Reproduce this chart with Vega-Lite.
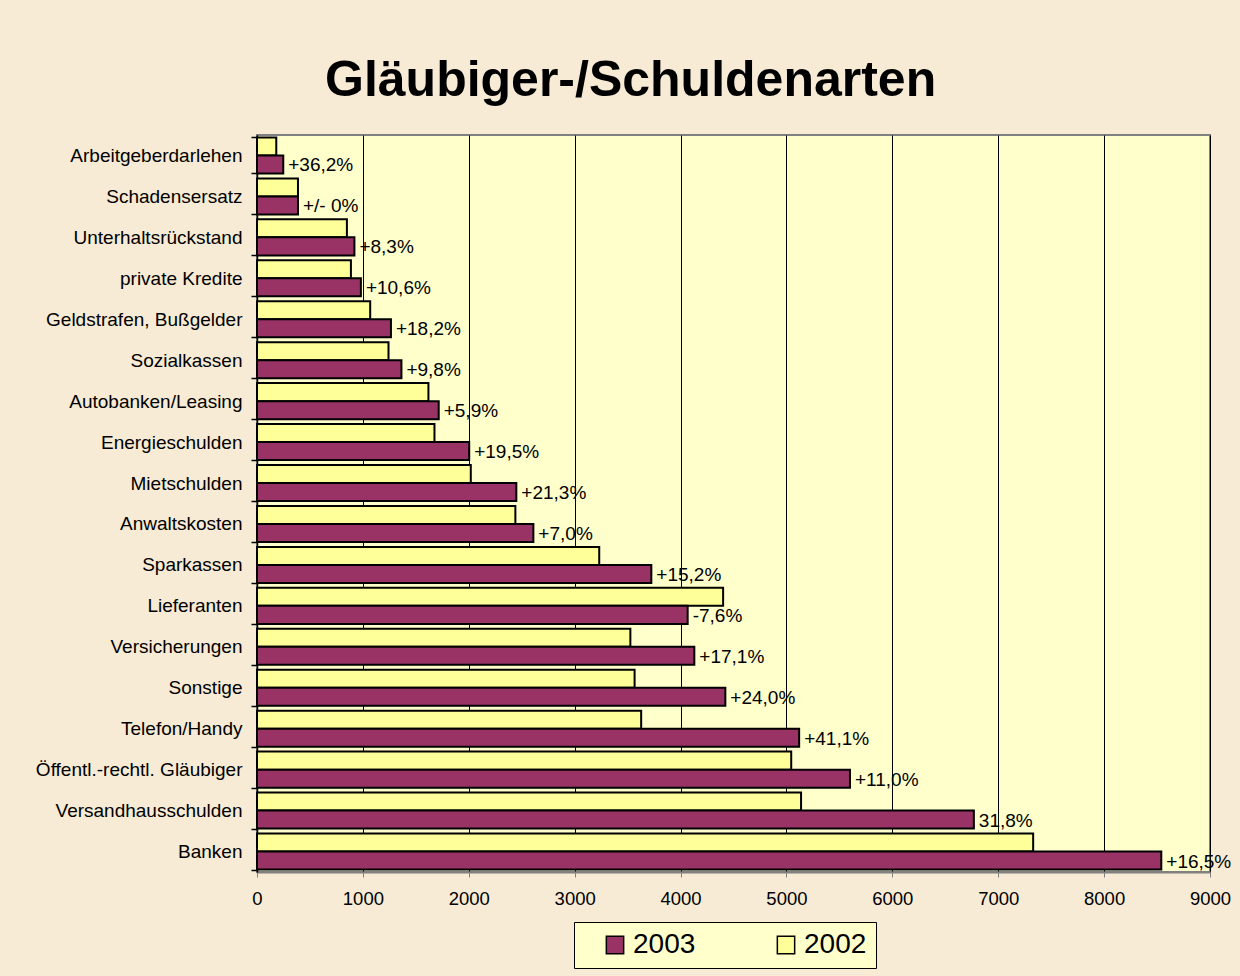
{
  "$schema": "https://vega.github.io/schema/vega-lite/v6.json",
  "width": 953,
  "height": 737,
  "autosize": "none",
  "padding": {"left": 257, "top": 135, "right": 30, "bottom": 104},
  "background": "#F7EBD5",
  "title": {
    "text": "Gläubiger-/Schuldenarten",
    "font": "Liberation Sans",
    "fontSize": 50,
    "fontWeight": "bold",
    "color": "black",
    "anchor": "start",
    "frame": "group",
    "dx": 68,
    "offset": 20
  },
  "config": {
    "font": "Liberation Sans",
    "view": {"fill": "#FFFFCC", "stroke": "#808080", "strokeWidth": 2}
  },
  "data": {
    "values": [
      {"cat": "Arbeitgeberdarlehen", "year": "2002", "value": 182, "label": ""},
      {"cat": "Arbeitgeberdarlehen", "year": "2003", "value": 248, "label": "+36,2%"},
      {"cat": "Schadensersatz", "year": "2002", "value": 387, "label": ""},
      {"cat": "Schadensersatz", "year": "2003", "value": 387, "label": "+/- 0%"},
      {"cat": "Unterhaltsrückstand", "year": "2002", "value": 849, "label": ""},
      {"cat": "Unterhaltsrückstand", "year": "2003", "value": 920, "label": "+8,3%"},
      {"cat": "private Kredite", "year": "2002", "value": 887, "label": ""},
      {"cat": "private Kredite", "year": "2003", "value": 981, "label": "+10,6%"},
      {"cat": "Geldstrafen, Bußgelder", "year": "2002", "value": 1069, "label": ""},
      {"cat": "Geldstrafen, Bußgelder", "year": "2003", "value": 1265, "label": "+18,2%"},
      {"cat": "Sozialkassen", "year": "2002", "value": 1242, "label": ""},
      {"cat": "Sozialkassen", "year": "2003", "value": 1364, "label": "+9,8%"},
      {"cat": "Autobanken/Leasing", "year": "2002", "value": 1619, "label": ""},
      {"cat": "Autobanken/Leasing", "year": "2003", "value": 1716, "label": "+5,9%"},
      {"cat": "Energieschulden", "year": "2002", "value": 1676, "label": ""},
      {"cat": "Energieschulden", "year": "2003", "value": 2004, "label": "+19,5%"},
      {"cat": "Mietschulden", "year": "2002", "value": 2019, "label": ""},
      {"cat": "Mietschulden", "year": "2003", "value": 2449, "label": "+21,3%"},
      {"cat": "Anwaltskosten", "year": "2002", "value": 2440, "label": ""},
      {"cat": "Anwaltskosten", "year": "2003", "value": 2610, "label": "+7,0%"},
      {"cat": "Sparkassen", "year": "2002", "value": 3232, "label": ""},
      {"cat": "Sparkassen", "year": "2003", "value": 3724, "label": "+15,2%"},
      {"cat": "Lieferanten", "year": "2002", "value": 4402, "label": ""},
      {"cat": "Lieferanten", "year": "2003", "value": 4067, "label": "-7,6%"},
      {"cat": "Versicherungen", "year": "2002", "value": 3526, "label": ""},
      {"cat": "Versicherungen", "year": "2003", "value": 4130, "label": "+17,1%"},
      {"cat": "Sonstige", "year": "2002", "value": 3566, "label": ""},
      {"cat": "Sonstige", "year": "2003", "value": 4423, "label": "+24,0%"},
      {"cat": "Telefon/Handy", "year": "2002", "value": 3628, "label": ""},
      {"cat": "Telefon/Handy", "year": "2003", "value": 5120, "label": "+41,1%"},
      {"cat": "Öffentl.-rechtl. Gläubiger", "year": "2002", "value": 5045, "label": ""},
      {"cat": "Öffentl.-rechtl. Gläubiger", "year": "2003", "value": 5600, "label": "+11,0%"},
      {"cat": "Versandhausschulden", "year": "2002", "value": 5138, "label": ""},
      {"cat": "Versandhausschulden", "year": "2003", "value": 6770, "label": "31,8%"},
      {"cat": "Banken", "year": "2002", "value": 7330, "label": ""},
      {"cat": "Banken", "year": "2003", "value": 8540, "label": "+16,5%"}
    ]
  },
  "encoding": {
    "y": {
      "field": "cat",
      "type": "nominal",
      "sort": ["Arbeitgeberdarlehen", "Schadensersatz", "Unterhaltsrückstand", "private Kredite", "Geldstrafen, Bußgelder", "Sozialkassen", "Autobanken/Leasing", "Energieschulden", "Mietschulden", "Anwaltskosten", "Sparkassen", "Lieferanten", "Versicherungen", "Sonstige", "Telefon/Handy", "Öffentl.-rechtl. Gläubiger", "Versandhausschulden", "Banken"],
      "scale": {"paddingInner": 0.12, "paddingOuter": 0.06},
      "axis": {
        "title": null,
        "domainColor": "black",
        "domainWidth": 1.5,
        "tickBand": "extent",
        "tickColor": "black",
        "tickSize": 6,
        "tickWidth": 1.5,
        "labelFontSize": 19,
        "labelColor": "black",
        "labelPadding": 9,
        "labelLimit": 300
      }
    },
    "yOffset": {
      "field": "year",
      "type": "nominal",
      "sort": ["2002", "2003"],
      "scale": {"paddingInner": 0, "paddingOuter": 0}
    },
    "x": {
      "field": "value",
      "type": "quantitative",
      "scale": {"domain": [0, 9000], "nice": false},
      "axis": {
        "title": null,
        "values": [0, 1000, 2000, 3000, 4000, 5000, 6000, 7000, 8000, 9000],
        "format": "d",
        "labelOverlap": false,
        "labelBound": false,
        "labelFlush": false,
        "grid": true,
        "gridColor": "black",
        "gridWidth": 1,
        "gridOpacity": 1,
        "domainColor": "#808080",
        "domainWidth": 2,
        "tickColor": "#808080",
        "tickSize": 5,
        "labelFontSize": 18.5,
        "labelColor": "black",
        "labelPadding": 12
      }
    }
  },
  "layer": [
    {
      "mark": {"type": "bar", "stroke": "black", "strokeWidth": 2},
      "encoding": {
        "color": {
          "field": "year",
          "type": "nominal",
          "scale": {"domain": ["2003", "2002"], "range": ["#993366", "#FFFF99"]},
          "legend": {
            "title": null,
            "orient": "none",
            "legendX": 317,
            "legendY": 787,
            "direction": "horizontal",
            "fillColor": "#FFFFCC",
            "strokeColor": "black",
            "padding": 9,
            "symbolType": "square",
            "symbolSize": 300,
            "symbolStrokeColor": "black",
            "symbolStrokeWidth": 1.5,
            "symbolOpacity": 1,
            "symbolOffset": 18,
            "labelFontSize": 28,
            "labelColor": "black",
            "labelOffset": 4,
            "columnPadding": 58
          }
        }
      }
    },
    {
      "mark": {"type": "text", "align": "left", "baseline": "middle", "dx": 5, "dy": 1, "fontSize": 19, "color": "black"},
      "encoding": {"text": {"field": "label"}}
    }
  ]
}
